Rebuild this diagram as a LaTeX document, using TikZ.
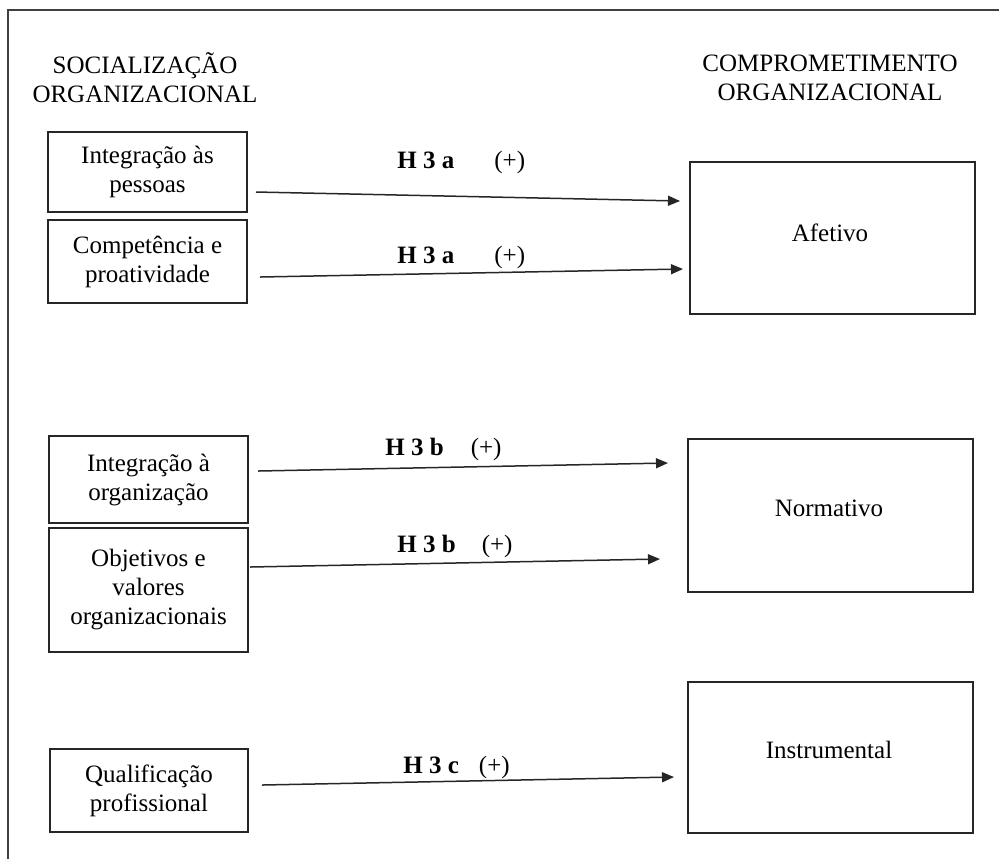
\documentclass[tikz,border=0pt]{standalone}
\usepackage{fontspec}
\setmainfont{Liberation Serif}
\usetikzlibrary{arrows.meta}

\tikzset{
  txt/.style={font=\fontsize{12.5pt}{14.5pt}\selectfont, inner sep=0pt, align=center},
  lbox/.style={txt, draw=black!85, line width=0.8pt, minimum width=99.5pt},
  rbox/.style={draw=black!85, line width=0.8pt, minimum width=142.5pt, minimum height=76pt, inner sep=0pt},
  hyp/.style={txt, anchor=base west},
  link/.style={line width=0.75pt, draw=black!85, -{Triangle[length=6pt,width=5pt]}},
  frame/.style={line width=1pt, draw=black!75}
}

\begin{document}
\begin{tikzpicture}[x=0.5pt,y=-0.5pt]
  \useasboundingbox (0,0) rectangle (999,859);

  % open frame: top and left edges
  \draw[frame] (8,859) -- (8,10) -- (999,10);

  % column headings
  \node[txt] (hsoc) at (145,78) {SOCIALIZAÇÃO\\ORGANIZACIONAL};
  \node[txt] (hcom) at (830,78) {COMPROMETIMENTO\\ORGANIZACIONAL};

  % dimensions of organizational socialization
  \node[lbox, minimum height=40pt]   (pes) at (147.5,172)   {Integração às\\pessoas};
  \node[lbox, minimum height=41.5pt] (pro) at (147.5,261.5) {Competência e\\proatividade};
  \node[lbox, minimum height=43.5pt] (org) at (148.5,479.5) {Integração à\\organização};
  \node[lbox, minimum height=62pt]   (obj) at (148.5,590)   {Objetivos e\\valores\\organizacionais};
  \node[lbox, minimum height=41.5pt, minimum width=99pt] (qua) at (149,790.5) {Qualificação\\profissional};

  % dimensions of organizational commitment
  \node[rbox] (afe) at (832.5,238) {};
  \node[txt]  (afet) at (830,233) {Afetivo};
  \node[rbox, minimum height=76.5pt] (nor) at (830.5,515.5) {};
  \node[txt]  (nort) at (829,508) {Normativo};
  \node[rbox, minimum height=75.5pt] (ins) at (830.5,757.5) {};
  \node[txt]  (inst) at (829,750) {Instrumental};

  % arrow end points
  \coordinate (a1) at (256,192);  \coordinate (b1) at (680,201);
  \coordinate (a2) at (260,277);  \coordinate (b2) at (683,269);
  \coordinate (a3) at (258,471);  \coordinate (b3) at (668,463);
  \coordinate (a4) at (250,567);  \coordinate (b4) at (660,559);
  \coordinate (a5) at (262,785);  \coordinate (b5) at (674,777);

  \draw[link] (a1) -- (b1);
  \draw[link] (a2) -- (b2);
  \draw[link] (a3) -- (b3);
  \draw[link] (a4) -- (b4);
  \draw[link] (a5) -- (b5);

  % hypothesis labels
  \node[hyp] (h1) at (397,168) {\textbf{H 3 a}\hspace{20pt}(+)};
  \node[hyp] (h2) at (397,263) {\textbf{H 3 a}\hspace{20pt}(+)};
  \node[hyp] (h3) at (385,455) {\textbf{H 3 b}\hspace{13.5pt}(+)};
  \node[hyp] (h4) at (397,552) {\textbf{H 3 b}\hspace{13pt}(+)};
  \node[hyp] (h5) at (403,773) {\textbf{H 3 c}\hspace{10pt}(+)};
\end{tikzpicture}
\end{document}
